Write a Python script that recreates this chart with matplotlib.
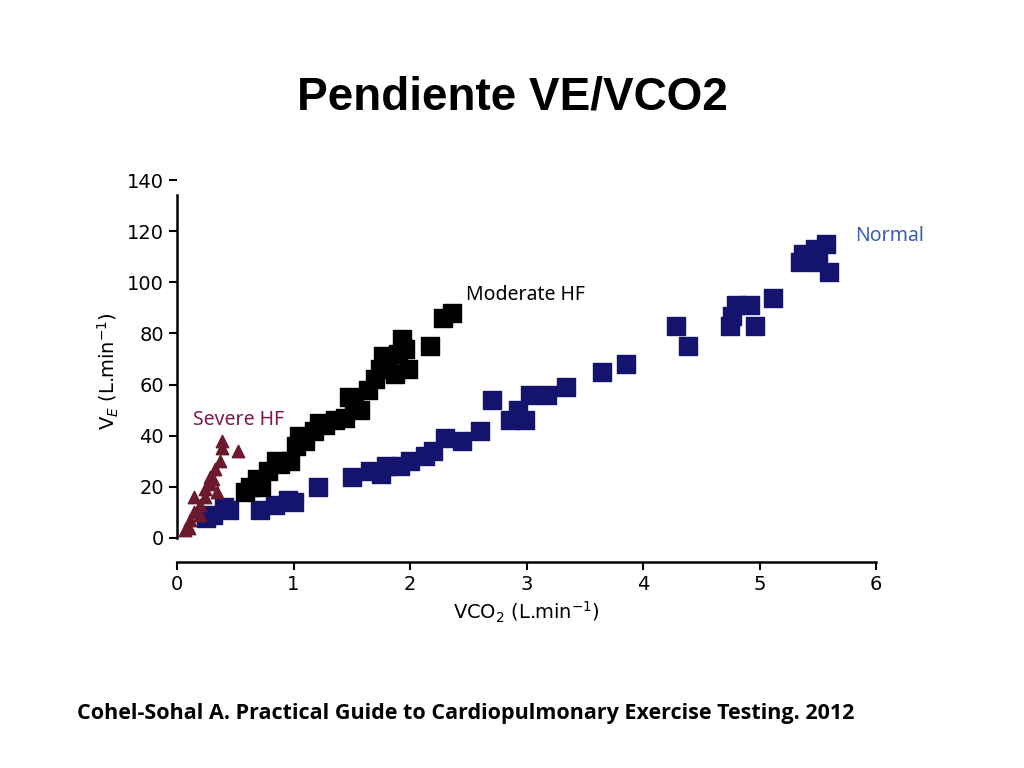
import matplotlib
matplotlib.use("Agg")
import matplotlib.pyplot as plt

normal_x = [0.31,0.45,0.71,0.84,0.95,1.21,1.5,1.66,1.79,1.91,2.0,2.13,2.3,2.45,2.6,2.7,2.86,2.99,2.93,3.03,3.18,3.34,3.65,3.85,4.28,4.39,4.75,4.8,4.92,4.96,5.12,5.35,5.48,5.57,5.6,5.5,0.25,0.4,1.0,1.75,2.2,4.76,5.37]
normal_y = [9,11,11,13,15,20,24,26,28,28,30,32,39,38,42,54,46,46,50,56,56,59,65,68,83,75,83,91,91,83,94,108,113,115,104,108,8,12,14,25,34,87,111]
mod_x = [0.58,0.63,0.69,0.78,0.88,0.97,1.02,1.1,1.18,1.27,1.36,1.44,1.48,1.57,1.64,1.7,1.74,1.81,1.9,1.96,1.98,1.87,2.17,2.28,2.36,0.72,0.85,1.05,1.22,1.52,1.93,1.77]
mod_y = [18,20,23,26,29,30,36,38,42,44,46,47,55,50,58,62,66,69,72,74,66,64,75,86,88,20,30,40,45,52,78,71]
sev_x = [0.07,0.11,0.15,0.2,0.24,0.28,0.31,0.33,0.37,0.39,0.39,0.52,0.15,0.24,0.34,0.1,0.2,0.28]
sev_y = [3,7,10,13,16,21,23,27,30,35,38,34,16,19,18,4,9,24]
xticks = [0,1,2,3,4,5,6]
yticks = [0,20,40,60,80,100,120,140]

fig = plt.figure(figsize=(10.24,7.68), dpi=100)
fig.text(0.5, 1-97/768, "Pendiente VE/VCO2", ha="center", va="center", fontsize=33, fontweight="bold", family="Liberation Sans")
fig.text(0.075, 1-713/768, "Cohel-Sohal A. Practical Guide to Cardiopulmonary Exercise Testing. 2012", va="center", fontsize=15.5, fontweight="bold", family="Open Sans")

# x: 0 -> px177, 6 -> px876 ; y: 0 -> px538, 140 -> px180
ax = fig.add_axes([177/1024, 1-562/768, (876-177)/1024, (562-180)/768])
ax.set_xlim(0, 6)
ax.set_ylim(-9.4, 140)
ax.scatter(normal_x, normal_y, marker="s", s=160, color="#14146e", zorder=3)
ax.scatter(mod_x, mod_y, marker="s", s=170, color="black", zorder=3)
ax.scatter(sev_x, sev_y, marker="^", s=80, color="#6b1a2e", zorder=4)
ax.text(5.82, 116, "Normal", color="#3a5fb0", fontsize=14, family="Noto Sans")
ax.text(2.48, 93, "Moderate HF", color="black", fontsize=14, family="Noto Sans")
ax.text(0.14, 44, "Severe HF", color="#7a1a50", fontsize=14, family="Noto Sans")
for s in ["top","right"]:
    ax.spines[s].set_visible(False)
ax.spines["left"].set_bounds(0, 134)
ax.spines["left"].set_linewidth(1.8)
ax.spines["bottom"].set_linewidth(1.8)
ax.set_xticks(xticks)
ax.set_yticks(yticks)
ax.tick_params(labelsize=14, width=1.5, length=6)
ax.set_xlabel("VCO$_2$ (L.min$^{-1}$)", fontsize=14)
ax.set_ylabel("V$_E$ (L.min$^{-1}$)", fontsize=14)
fig.savefig("out.png")
